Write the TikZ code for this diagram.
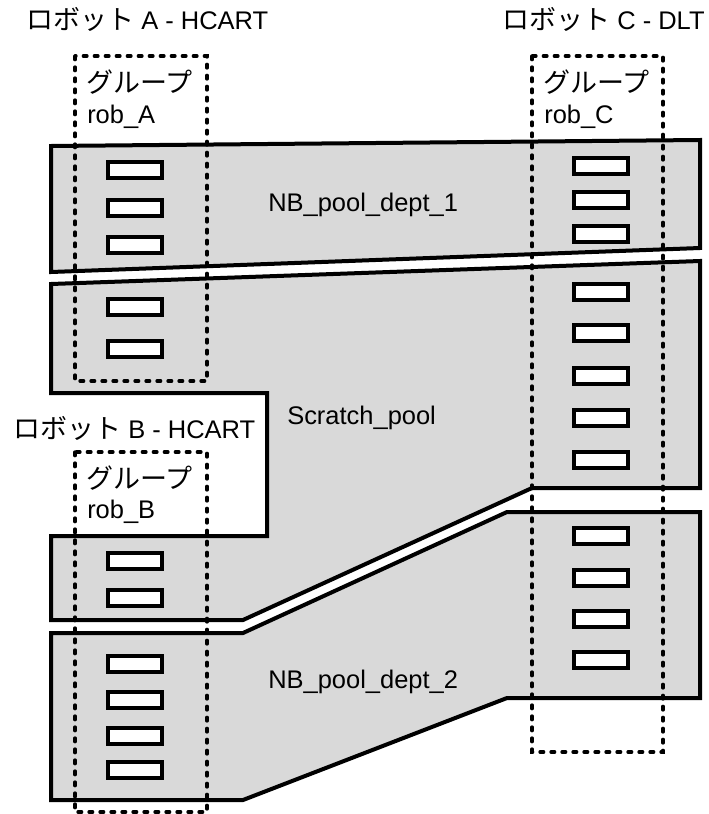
\documentclass[tikz,border=0pt]{standalone}
\usepackage{fontspec}
\setmainfont{Liberation Sans}
\newfontfamily\jpfont[Scale=1.06]{Noto Sans CJK JP}
\usetikzlibrary{positioning}
\definecolor{poolgray}{HTML}{D9D9D9}
\tikzset{
		pool/.style={draw=black, fill=poolgray, line width=3pt, line join=miter},
		robgroup/.style={draw=black, line width=2.5pt, line cap=round, dash pattern=on 2.75pt off 5.5pt},
		lbl/.style={anchor=base west, inner sep=0pt, font=\fontsize{19.1}{22}\selectfont}
	}
\tikzset{pics/tape/.style={code={ \draw[line width=2.5pt, fill=white] (-27,-8) rectangle (27,8); }}}

\begin{document}
\begin{tikzpicture}[x=0.75pt, y=-0.75pt] % (each unit = one pixel of the reference)
		\useasboundingbox (0,0) rectangle (708,814);
		% the three pools
		\draw[pool] (51,146) -- (700,140) -- (700,248) -- (51,272) -- cycle;
		\draw[pool] (51,284) -- (700,261) -- (700,488) -- (532,488) -- (243,620)
		  -- (51,620) -- (51,536) -- (267,536) -- (267,393) -- (51,393) -- cycle;
		\draw[pool] (51,633) -- (243,633) -- (507,512) -- (700,512) -- (700,698)
		  -- (507,698) -- (243,800) -- (51,800) -- cycle;
		% robot groups
		\draw[robgroup] (75,56) rectangle (207,381);
		\draw[robgroup] (532,56) rectangle (663,752);
		\draw[robgroup] (75,452) rectangle (207,812);
		% tapes
		\foreach \y in {170,208,245,307,349,561,598,664,700,736,770}
		  \pic at (135,\y) {tape};
		\foreach \y in {166,200,234,292,333,376,418,460,536,578,619,660}
		  \pic at (601,\y) {tape};
		% labels
		\node[lbl] (robA) at (26,29) {{\jpfont ロボット} A - HCART};
		\node[lbl] (robC) at (502,29) {{\jpfont ロボット} C - DLT};
		\node[lbl] (robB) at (13,438) {{\jpfont ロボット} B - HCART};
		\node[lbl] (grpA) at (86,92) {\jpfont グループ};
		\node[lbl] (nameA) at (87,123) {rob\_A};
		\node[lbl] (grpC) at (543,92) {\jpfont グループ};
		\node[lbl] (nameC) at (544,123) {rob\_C};
		\node[lbl] (grpB) at (86,488) {\jpfont グループ};
		\node[lbl] (nameB) at (87,518) {rob\_B};
		\node[lbl] (dept1) at (268,211) {NB\_pool\_dept\_1};
		\node[lbl] (scratch) at (287,424) {Scratch\_pool};
		\node[lbl] (dept2) at (268,688) {NB\_pool\_dept\_2};
	\end{tikzpicture}
\end{document}
